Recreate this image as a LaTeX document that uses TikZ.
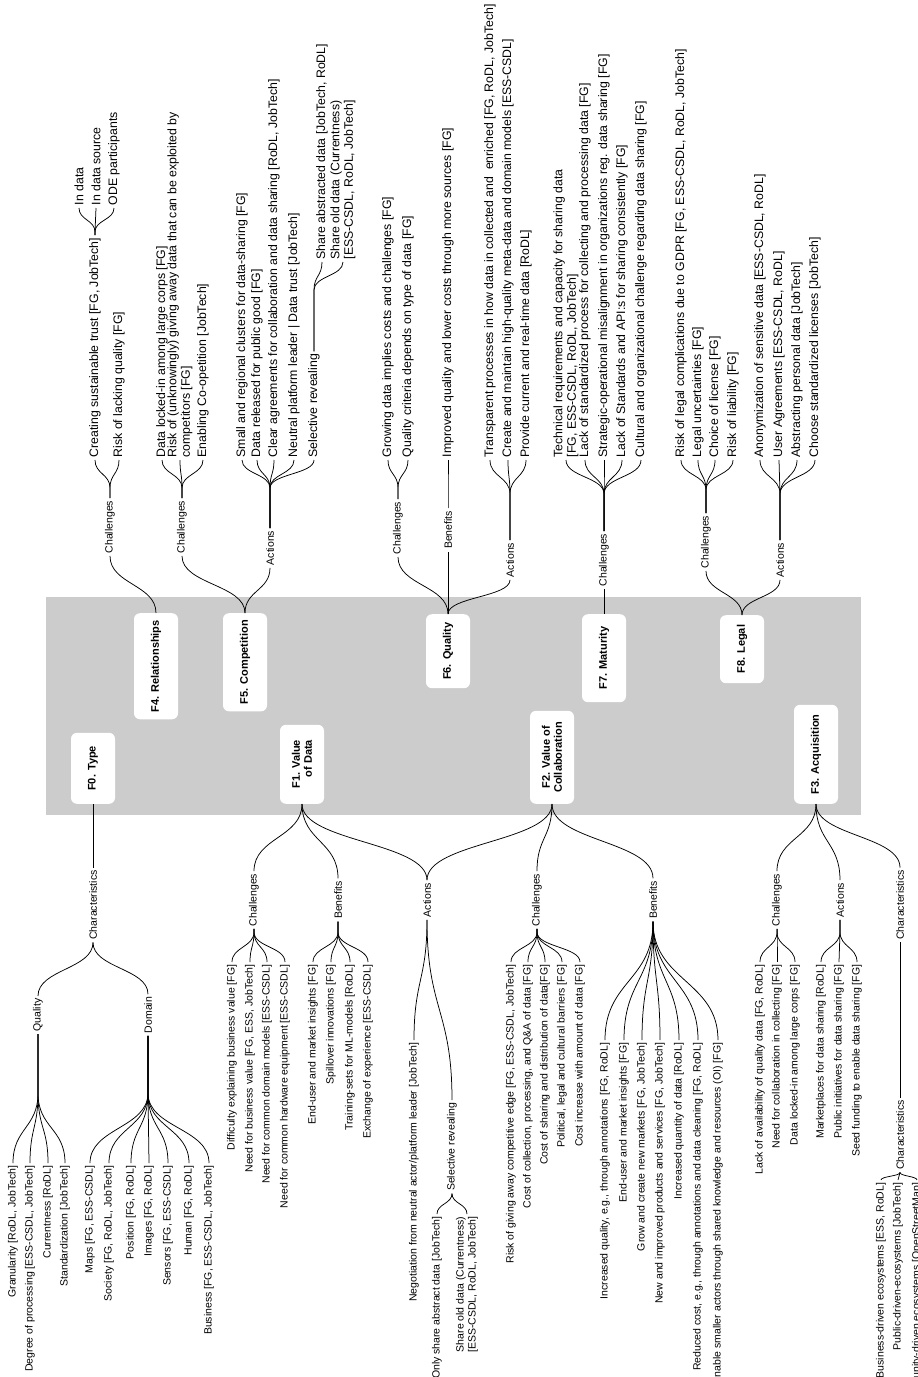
\documentclass[tikz,border=0pt]{standalone}
\usepackage{fontspec}
\setmainfont{Liberation Sans}
\usetikzlibrary{calc}
\newcommand\cn[3]{\draw[ln] let \p1=(#1), \p2=(#2),
  \n1={(\y2)+sign((\y1)-(\y2))*min(#3,abs((\y1)-(\y2)))}, \n2={0.5*(\n1+(\y2))} in
  (\p1) -- (\x1,\n1) .. controls (\x1,\n2) and (\x2,\n2) .. (\p2);}
\begin{document}
\begin{tikzpicture}[x=1pt,y=-1pt,
  txt/.style={rotate=90,inner xsep=2.5pt,inner ysep=1pt,font=\fontsize{10.5}{12}\selectfont},
  tl/.style={txt,anchor=west,align=left,font=\fontsize{12.3}{13.5}\selectfont},
  bl/.style={txt,anchor=east,align=right},
  cl/.style={txt,anchor=center},
  fb/.style={rotate=90,fill=white,rounded corners=6pt,font=\fontsize{11}{12}\selectfont\bfseries,
    minimum height=44pt,minimum width=68pt,inner xsep=7pt,inner ysep=2pt},
  ln/.style={line width=0.75pt}]
\useasboundingbox (0,0) rectangle (918,1377);
\fill[black!20] (46,597) rectangle (861,815);
% ---------- boxes
\node[fb,anchor=east] (F4) at (156,613) {F4. Relationships};
\node[fb,anchor=east] (F5) at (245,613) {F5. Competition};
\node[fb,anchor=east,minimum width=74pt] (F6) at (448,614) {F6. Quality};
\node[fb,anchor=east,minimum width=88pt] (F7) at (604,614) {F7. Maturity};
\node[fb,anchor=east] (F8) at (742,615) {F8. Legal};
\node[fb,anchor=west,minimum width=71pt] (F0) at (93,804) {F0. Type};
\node[fb,anchor=west,align=right,minimum width=79pt] (F1) at (302,804) {F1. Value\\of Data};
\node[fb,anchor=west,align=center,minimum width=93pt] (F2) at (552,804) {F2. Value of\\Collaboration};
\node[fb,anchor=west,minimum width=99pt] (F3) at (816,804) {F3. Acquisition};
% ---------- F4
\node[cl] (F4c) at (110,527) {Challenges};
\node[tl] (F4c1) at (95,460) {Creating sustainable trust [FG, JobTech]};
\node[tl] (F4c2) at (119,460) {Risk of lacking quality [FG]};
\node[tl] (F4c1a) at (79,208) {In data};
\node[tl] (F4c1b) at (96,208) {In data source};
\node[tl] (F4c1c) at (114,208) {ODE participants};
\cn{F4.east}{F4c.west}{999}
\cn{F4c.east}{F4c1.west}{28}
\cn{F4c.east}{F4c2.west}{28}
\cn{F4c1.east}{F4c1a.west}{24}
\cn{F4c1.east}{F4c1b.west}{24}
\cn{F4c1.east}{F4c1c.west}{24}
% ---------- F5
\node[cl] (F5c) at (182,527) {Challenges};
\node[tl] (F5c1) at (162,460) {Data locked-in among large corps [FG]};
\node[tl] (F5c2) at (180,460) {Risk of (unknowingly) giving away data that can be exploited by\\competitors [FG]};
\node[tl] (F5c3) at (203,460) {Enabling Co-opetition [JobTech]};
\node[cl] (F5a) at (270,548) {Actions};
\node[tl] (F5a1) at (242,460) {Small and regional clusters for data-sharing [FG]};
\node[tl] (F5a2) at (257,460) {Data released for public good [FG]};
\node[tl] (F5a3) at (274,460) {Clear agreements for collaboration and data sharing [RoDL, JobTech]};
\node[tl] (F5a4) at (294,460) {Neutral platform leader | Data trust [JobTech]};
\node[tl] (F5a5) at (314,460) {Selective revealing};
\node[tl] (F5a5a) at (322,262) {Share abstracted data [JobTech, RoDL]};
\node[tl] (F5a5b) at (343,262) {Share old data (Currentness)\\{}[ESS-CSDL, RoDL, JobTech]};
\cn{F5.east}{F5c.west}{999}
\cn{F5.east}{F5a.west}{999}
\foreach \k in {1,2,3}{\cn{F5c.east}{F5c\k.west}{28}}
\foreach \k in {1,...,5}{\cn{F5a.east}{F5a\k.west}{28}}
\cn{F5a5.east}{F5a5a.west}{28}
\cn{F5a5.east}{F5a5b.west}{28}
% ---------- F6
\node[cl] (F6c) at (398,528) {Challenges};
\node[tl] (F6c1) at (388,460) {Growing data implies costs and challenges [FG]};
\node[tl] (F6c2) at (408,460) {Quality criteria depends on type of data [FG]};
\node[cl] (F6b) at (448,530) {Benefits};
\node[tl] (F6b1) at (448,460) {Improved quality and lower costs through more sources [FG]};
\node[cl] (F6a) at (510,560) {Actions};
\node[tl] (F6a1) at (490,460) {Transparent processes in how data in collected and\ \ enriched [FG, RoDL, JobTech]};
\node[tl] (F6a2) at (508,460) {Create and maintain high-quality meta-data and domain models [ESS-CSDL]};
\node[tl] (F6a3) at (526,460) {Provide current and real-time data [RoDL]};
\cn{F6.east}{F6c.west}{999}
\cn{F6.east}{F6b.west}{999}
\cn{F6.east}{F6a.west}{999}
\foreach \k in {1,2}{\cn{F6c.east}{F6c\k.west}{28}}
\cn{F6b.east}{F6b1.west}{28}
\foreach \k in {1,2,3}{\cn{F6a.east}{F6a\k.west}{34}}
% ---------- F7
\node[cl] (F7c) at (604,560) {Challenges};
\node[tl] (F7c1) at (566,460) {Technical requirements and capacity for sharing data\\{}[FG, ESS-CSDL, RoDL, JobTech]};
\node[tl] (F7c2) at (585,460) {Lack of standardized process for collecting and processing data [FG]};
\node[tl] (F7c3) at (604,460) {Strategic-operational misalignment in organizations reg. data sharing [FG]};
\node[tl] (F7c4) at (622,460) {Lack of Standards and API:s for sharing consistently [FG]};
\node[tl] (F7c5) at (641,460) {Cultural and organizational challenge regarding data sharing [FG]};
\cn{F7.east}{F7c.west}{999}
\foreach \k in {1,...,5}{\cn{F7c.east}{F7c\k.west}{34}}
% ---------- F8
\node[cl] (F8c) at (706,542) {Challenges};
\node[tl] (F8c1) at (681,460) {Risk of legal complications due to GDPR [FG, ESS-CSDL, RoDL, JobTech]};
\node[tl] (F8c2) at (698,460) {Legal uncertainties [FG]};
\node[tl] (F8c3) at (715,460) {Choice of license [FG]};
\node[tl] (F8c4) at (733,460) {Risk of liability [FG]};
\node[cl] (F8a) at (780,560) {Actions};
\node[tl] (F8a1) at (760,460) {Anonymization of sensitive data [ESS-CSDL, RoDL]};
\node[tl] (F8a2) at (779,460) {User Agreements [ESS-CSDL, RoDL]};
\node[tl] (F8a3) at (797,460) {Abstracting personal data [JobTech]};
\node[tl] (F8a4) at (815,460) {Choose standardized licenses [JobTech]};
\cn{F8.east}{F8c.west}{999}
\cn{F8.east}{F8a.west}{999}
\foreach \k in {1,...,4}{\cn{F8c.east}{F8c\k.west}{30}}
\foreach \k in {1,...,4}{\cn{F8a.east}{F8a\k.west}{34}}
% ---------- F0
\node[cl] (F0k) at (93,905) {Characteristics};
\node[cl] (F0q) at (38,1015) {Quality};
\node[cl] (F0d) at (148,1015) {Domain};
\node[bl] (F0q1) at (13,1163) {Granularity [RoDL, JobTech]};
\node[bl] (F0q2) at (30,1163) {Degree of processing [ESS-CSDL, JobTech]};
\node[bl] (F0q3) at (48,1163) {Currentness [RoDL]};
\node[bl] (F0q4) at (65,1163) {Standardization [JobTech]};
\node[bl] (F0d1) at (90,1163) {Maps [FG, ESS-CSDL]};
\node[bl] (F0d2) at (109,1163) {Society [FG, RoDL, JobTech]};
\node[bl] (F0d3) at (131,1163) {Position [FG, RoDL]};
\node[bl] (F0d4) at (149,1163) {Images [FG, RoDL]};
\node[bl] (F0d5) at (168,1163) {Sensors [FG, ESS-CSDL]};
\node[bl] (F0d6) at (189,1163) {Human [FG, RoDL]};
\node[bl] (F0d7) at (209,1163) {Business [FG, ESS-CSDL, JobTech]};
\cn{F0.west}{F0k.east}{999}
\cn{F0k.west}{F0q.east}{999}
\cn{F0k.west}{F0d.east}{999}
\foreach \k in {1,...,4}{\cn{F0q.west}{F0q\k.east}{70}}
\foreach \k in {1,...,7}{\cn{F0d.west}{F0d\k.east}{70}}
% ---------- F1
\node[cl] (F1c) at (254,900) {Challenges};
\node[bl] (F1c1) at (232,962) {Difficulty explaining business value [FG]};
\node[bl] (F1c2) at (250,962) {Need for business value [FG, ESS, JobTech]};
\node[bl] (F1c3) at (267,962) {Need for common domain models [ESS-CSDL]};
\node[bl] (F1c4) at (285,962) {Need for common hardware equipment [ESS-CSDL]};
\node[cl] (F1b) at (338,900) {Benefits};
\node[bl] (F1b1) at (313,962) {End-user and market insights [FG]};
\node[bl] (F1b2) at (331,962) {Spillover innovations [FG]};
\node[bl] (F1b3) at (350,962) {Training-sets for ML-models [RoDL]};
\node[bl] (F1b4) at (368,962) {Exchange of experience [ESS-CSDL]};
\node[cl] (F1a) at (427,900) {Actions};
\node[bl] (F1a1) at (414,1040) {Negotiation from neutral actor/platform leader [JobTech]};
\node[bl] (F1a2) at (452,1100) {Selective revealing};
\node[bl] (F1a2a) at (437,1214) {Only share abstract data [JobTech]};
\node[bl] (F1a2b) at (467,1214) {Share old data (Currentness)\\{}[ESS-CSDL, RoDL, JobTech]};
\cn{F1.west}{F1c.east}{999}
\cn{F1.west}{F1b.east}{999}
\cn{F1.west}{F1a.east}{999}
\foreach \k in {1,...,4}{\cn{F1c.west}{F1c\k.east}{30}}
\foreach \k in {1,...,4}{\cn{F1b.west}{F1b\k.east}{30}}
\foreach \k in {1,2}{\cn{F1a.west}{F1a\k.east}{999}}
\cn{F1a2.west}{F1a2a.east}{999}
\cn{F1a2.west}{F1a2b.east}{999}
% ---------- F2
\node[cl] (F2c) at (537,900) {Challenges};
\node[bl] (F2c1) at (511,962) {Risk of giving away competitive edge [FG, ESS-CSDL, JobTech]};
\node[bl] (F2c2) at (528,962) {Cost of collection, processing, and Q\&A of data [FG]};
\node[bl] (F2c3) at (545,962) {Cost of sharing and distribution of data[FG]};
\node[bl] (F2c4) at (562,962) {Political, legal and cultural barriers [FG]};
\node[bl] (F2c5) at (580,962) {Cost increase with amount of data [FG]};
\node[cl] (F2b) at (653,900) {Benefits};
\node[bl] (F2b1) at (605,1040) {Increased quality, e.g., through annotations [FG, RoDL]};
\node[bl] (F2b2) at (624,1040) {End-user and market insights [FG]};
\node[bl] (F2b3) at (642,1040) {Grow and create new markets [FG, JobTech]};
\node[bl] (F2b4) at (660,1040) {New and improved products and services [FG, JobTech]};
\node[bl] (F2b5) at (679,1040) {Increased quantity of data [RoDL]};
\node[bl] (F2b6) at (698,1040) {Reduced cost, e.g., through annotations and data cleaning [FG, RoDL]};
\node[bl] (F2b7) at (718,1040) {Enable smaller actors through shared knowledge and resources (OI) [FG]};
\cn{F2.west}{F1a.east}{999}
\cn{F2.west}{F2c.east}{999}
\cn{F2.west}{F2b.east}{999}
\foreach \k in {1,...,5}{\cn{F2c.west}{F2c\k.east}{30}}
\foreach \k in {1,...,7}{\cn{F2b.west}{F2b\k.east}{999}}
% ---------- F3
\node[cl] (F3c) at (777,900) {Challenges};
\node[bl] (F3c1) at (760,962) {Lack of availability of quality data [FG, RoDL]};
\node[bl] (F3c2) at (777,962) {Need for collaboration in collecting [FG]};
\node[bl] (F3c3) at (795,962) {Data locked-in among large corps [FG]};
\node[cl] (F3a) at (840,900) {Actions};
\node[bl] (F3a1) at (821,962) {Marketplaces for data sharing [RoDL]};
\node[bl] (F3a2) at (839,962) {Public initiatives for data sharing [FG]};
\node[bl] (F3a3) at (857,962) {Seed funding to enable data sharing [FG]};
\node[cl] (F3k) at (900,905) {Characteristics};
\node[cl] (F3k2) at (900,1135) {Characteristics};
\node[bl] (F3k1) at (881,1180) {Business-driven ecosystems [ESS, RoDL]};
\node[bl] (F3k3) at (898,1180) {Public-driven-ecosystems [JobTech]};
\node[bl] (F3k4) at (917,1180) {Community-driven ecosystems [OpenStreetMap]};
\cn{F3.west}{F3c.east}{999}
\cn{F3.west}{F3a.east}{999}
\cn{F3.west}{F3k.east}{999}
\foreach \k in {1,2,3}{\cn{F3c.west}{F3c\k.east}{30}}
\foreach \k in {1,2,3}{\cn{F3a.west}{F3a\k.east}{30}}
\cn{F3k.west}{F3k2.east}{999}
\foreach \k in {1,3,4}{\cn{F3k2.west}{F3k\k.east}{999}}
\end{tikzpicture}
\end{document}
